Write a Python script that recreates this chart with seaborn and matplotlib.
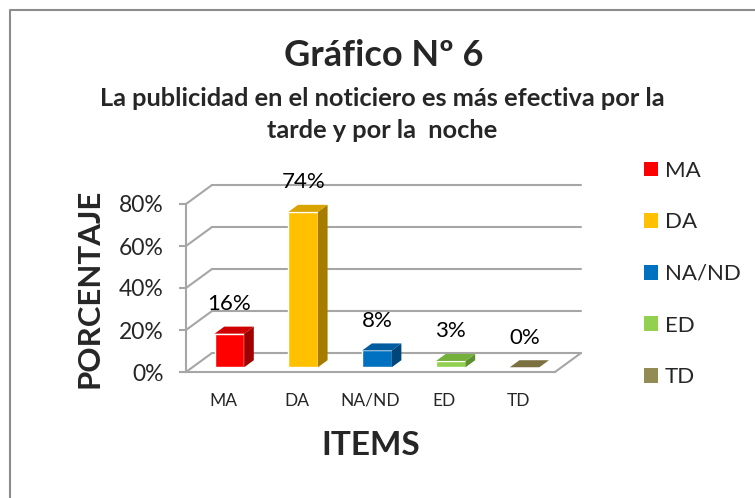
import numpy as np
import pandas as pd
import matplotlib
matplotlib.use("Agg")
import matplotlib.pyplot as plt
from matplotlib.patches import Polygon, Patch
from matplotlib.lines import Line2D
import seaborn as sns

# datos del grafico
categorias = ["MA", "DA", "NA/ND", "ED", "TD"]
porcentajes = [0.16, 0.74, 0.08, 0.03, 0.00]
etiquetas = ["16%", "74%", "8%", "3%", "0%"]
ticks_y = [0.0, 0.2, 0.4, 0.6, 0.8]
ticks_y_txt = ["0%", "20%", "40%", "60%", "80%"]

colores = ["#FF0000", "#FFC000", "#0070C0", "#92D050", "#948A54"]
colores_top = ["#D00000", "#D9A300", "#005C9E", "#74B13C", "#7A7040"]
colores_lado = ["#A00000", "#A67C00", "#00467A", "#5E8F30", "#5F5630"]

df = pd.DataFrame({"item": categorias, "valor": porcentajes})

sns.set_theme(style="white")
plt.rcParams["font.family"] = ["Lato", "DejaVu Sans"]

fig = plt.figure(figsize=(7.55, 4.98), dpi=100)
ax = fig.add_axes([186 / 755, 126 / 498, 369 / 755, 168 / 498])

# profundidad del efecto 3D (en unidades de datos)
DX = 26 / (369 / 5)
DY = 19 / 210
f0, f1 = 0.25, 0.62
gris = "#A6A6A6"

sns.barplot(data=df, x="item", y="valor", hue="item", palette=colores,
            width=0.4, legend=False, ax=ax, saturation=1, zorder=3)
ax.set_xlim(-0.5, 4.5)
ax.set_ylim(0, 0.8)

# paredes y lineas de division
for v in ticks_y:
    ax.plot([-0.5 + DX, 4.5 + DX], [v + DY, v + DY], color=gris, lw=1.5,
            clip_on=False, zorder=1)
    ax.plot([-0.5, -0.5 + DX], [v, v + DY], color=gris, lw=1.5,
            clip_on=False, zorder=1)
ax.plot([4.5, 4.5 + DX], [0, DY], color=gris, lw=1.5, clip_on=False, zorder=1)

# barras en 3D
d = f1 - f0
for i, p in enumerate(ax.patches):
    x0, w, h = p.get_x(), p.get_width(), p.get_height()
    x0 = x0 + f0 * DX
    y0 = f0 * DY
    p.set_x(x0)
    p.set_y(y0)
    p.set_clip_on(False)
    lado = [(x0 + w, y0), (x0 + w + d * DX, y0 + d * DY),
            (x0 + w + d * DX, y0 + h + d * DY), (x0 + w, y0 + h)]
    tapa = [(x0, y0 + h), (x0 + w, y0 + h),
            (x0 + w + d * DX, y0 + h + d * DY), (x0 + d * DX, y0 + h + d * DY)]
    ax.add_patch(Polygon(lado, closed=True, facecolor=colores_lado[i],
                         edgecolor="none", zorder=3, clip_on=False))
    ax.add_patch(Polygon(tapa, closed=True, facecolor=colores_top[i],
                         edgecolor="none", zorder=3, clip_on=False))
    ax.annotate(etiquetas[i], (x0 + w / 2, y0 + h + d * DY),
                xytext=(0, 9), textcoords="offset points",
                ha="center", va="bottom", fontsize=16, color="black",
                annotation_clip=False)

# ejes
sns.despine(ax=ax, top=True, right=True)
for s in ["left", "bottom"]:
    ax.spines[s].set_color(gris)
    ax.spines[s].set_linewidth(1.5)
ax.set_yticks(ticks_y)
ax.set_yticklabels(ticks_y_txt)
ax.tick_params(axis="y", length=5, width=1.5, color=gris, pad=11,
               labelsize=16.5, left=True)
ax.tick_params(axis="x", length=0, pad=15, labelsize=12.5)
ax.set_xlabel("ITEMS", fontsize=24, fontweight="bold", labelpad=16)
ax.set_ylabel("PORCENTAJE", fontsize=22.5, fontweight="bold", labelpad=11)
ax.set_facecolor("none")

# titulos
fig.text(384 / 755, 1 - 56 / 498, "Gráfico Nº 6", ha="center", va="center",
         fontsize=26, fontweight="bold")
fig.text(382 / 755, 1 - 99 / 498,
         "La publicidad en el noticiero es más efectiva por la",
         ha="center", va="center", fontsize=18.3, fontweight="bold")
fig.text(382 / 755, 1 - 131 / 498, "tarde y por la  noche",
         ha="center", va="center", fontsize=18.3, fontweight="bold")

# leyenda
handles = [Patch(facecolor=c, edgecolor="none", label=l)
           for c, l in zip(colores, categorias)]
fig.legend(handles=handles, loc="upper left",
           bbox_to_anchor=(635 / 755, 1 - 152 / 498), frameon=False,
           fontsize=16, handlelength=0.65, handleheight=0.65,
           handletextpad=0.3, labelspacing=1.42, borderaxespad=0)

# borde del grafico
fig.add_artist(Line2D([10 / 755, 10 / 755, 1.0], [0.0, 1 - 10 / 498, 1 - 10 / 498],
                      transform=fig.transFigure, color="#8C8C8C", lw=1.5))

fig.savefig("out.png", dpi=100)
